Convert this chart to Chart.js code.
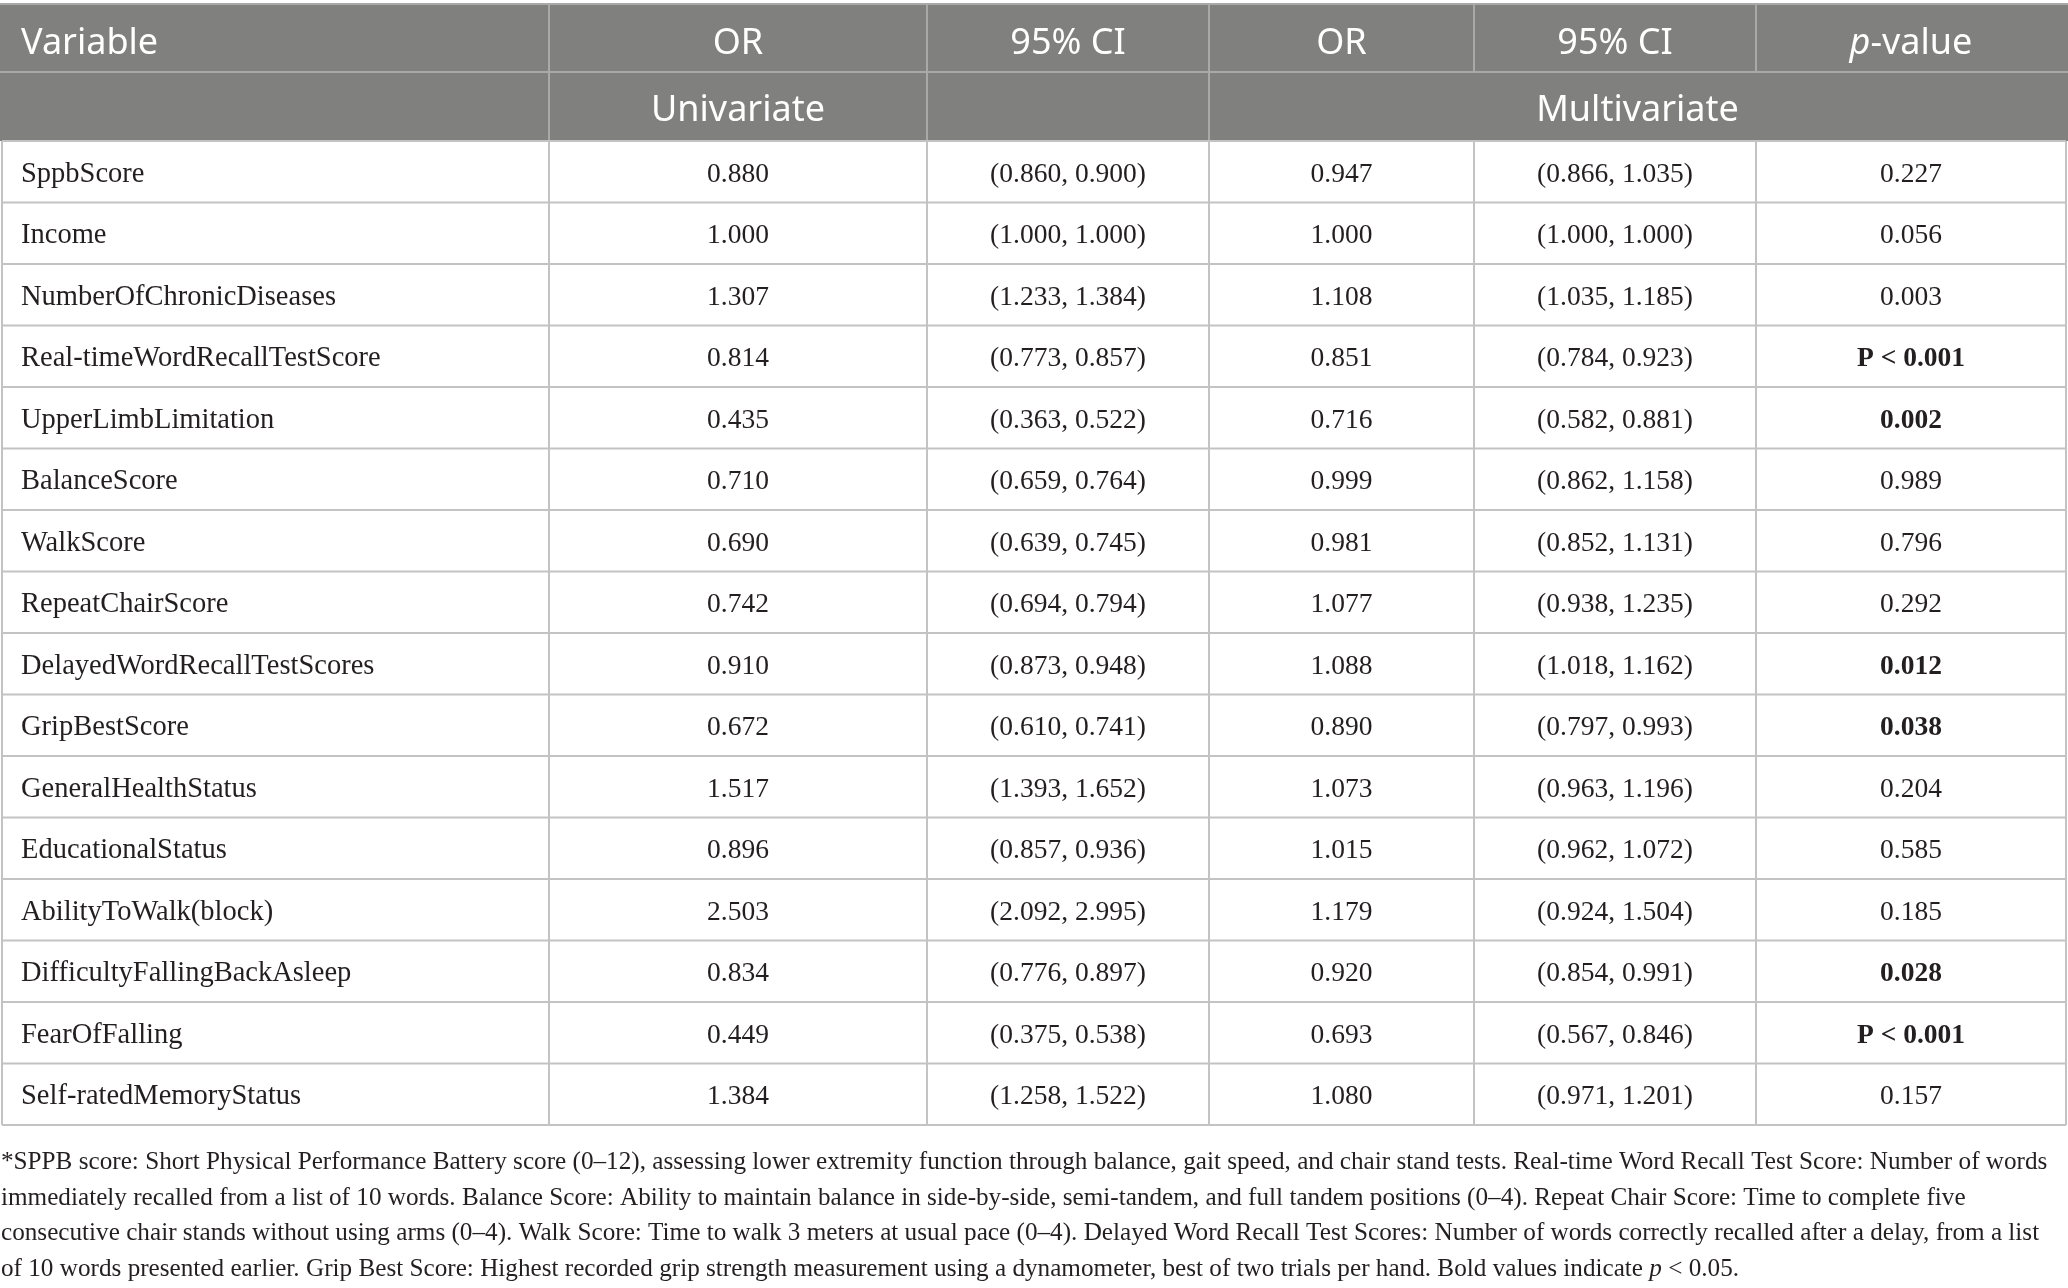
<!DOCTYPE html>
<html>
<head>
<meta charset="utf-8">
<script src="https://cdn.jsdelivr.net/npm/chart.js@4.4.0/dist/chart.umd.min.js"></script>
<style>
  html, body { margin: 0; padding: 0; background: #fff; }
  #wrap { width: 2068px; height: 1288px; }
</style>
</head>
<body>
<div id="wrap"><canvas id="tbl" width="2068" height="1288"></canvas></div>
<script>
// table content
var variables = ['SppbScore', 'Income', 'NumberOfChronicDiseases', 'Real-timeWordRecallTestScore',
  'UpperLimbLimitation', 'BalanceScore', 'WalkScore', 'RepeatChairScore',
  'DelayedWordRecallTestScores', 'GripBestScore', 'GeneralHealthStatus', 'EducationalStatus',
  'AbilityToWalk(block)', 'DifficultyFallingBackAsleep', 'FearOfFalling', 'Self-ratedMemoryStatus'];
var uniOR = ['0.880', '1.000', '1.307', '0.814', '0.435', '0.710', '0.690', '0.742',
  '0.910', '0.672', '1.517', '0.896', '2.503', '0.834', '0.449', '1.384'];
var uniCI = ['(0.860, 0.900)', '(1.000, 1.000)', '(1.233, 1.384)', '(0.773, 0.857)',
  '(0.363, 0.522)', '(0.659, 0.764)', '(0.639, 0.745)', '(0.694, 0.794)',
  '(0.873, 0.948)', '(0.610, 0.741)', '(1.393, 1.652)', '(0.857, 0.936)',
  '(2.092, 2.995)', '(0.776, 0.897)', '(0.375, 0.538)', '(1.258, 1.522)'];
var multiOR = ['0.947', '1.000', '1.108', '0.851', '0.716', '0.999', '0.981', '1.077',
  '1.088', '0.890', '1.073', '1.015', '1.179', '0.920', '0.693', '1.080'];
var multiCI = ['(0.866, 1.035)', '(1.000, 1.000)', '(1.035, 1.185)', '(0.784, 0.923)',
  '(0.582, 0.881)', '(0.862, 1.158)', '(0.852, 1.131)', '(0.938, 1.235)',
  '(1.018, 1.162)', '(0.797, 0.993)', '(0.963, 1.196)', '(0.962, 1.072)',
  '(0.924, 1.504)', '(0.854, 0.991)', '(0.567, 0.846)', '(0.971, 1.201)'];
var pValues = ['0.227', '0.056', '0.003', 'P < 0.001', '0.002', '0.989', '0.796', '0.292',
  '0.012', '0.038', '0.204', '0.585', '0.185', '0.028', 'P < 0.001', '0.157'];
var pBold = [false, false, false, true, true, false, false, false,
  true, true, false, false, false, true, true, false];
var headerLabels = ['Variable', 'OR', '95% CI', 'OR', '95% CI', 'p-value'];
var groupLabels = ['Univariate', 'Multivariate'];
var footnote = [
  [['*SPPB score: Short Physical Performance Battery score (0\u201312), assessing lower extremity function through balance, gait speed, and chair stand tests. Real-time Word Recall Test Score: Number of words', false]],
  [['immediately recalled from a list of 10 words. Balance Score: Ability to maintain balance in side-by-side, semi-tandem, and full tandem positions (0\u20134). Repeat Chair Score: Time to complete five', false]],
  [['consecutive chair stands without using arms (0\u20134). Walk Score: Time to walk 3 meters at usual pace (0\u20134). Delayed Word Recall Test Scores: Number of words correctly recalled after a delay, from a list', false]],
  [['of 10 words presented earlier. Grip Best Score: Highest recorded grip strength measurement using a dynamometer, best of two trials per hand. Bold values indicate ', false], ['p', true], [' < 0.05.', false]]
];

// layout (canvas units)
var colEdges = [2, 549, 927, 1209, 1474, 1756, 2066];
var headTop = 4, headMid = 72, headBot = 141, rowH = 61.5;
var serif = '"Liberation Serif", "Times New Roman", serif';
var sans = '"Noto Sans", "Open Sans", sans-serif';

function colCenter(c) { return (colEdges[c] + colEdges[c + 1]) / 2; }
function rowCenter(i) { return headBot + rowH * i + rowH / 2; }

var columns = [variables, uniOR, uniCI, multiOR, multiCI, pValues];
var datasets = columns.map(function (col, c) {
  return {
    label: headerLabels[c],
    texts: col,
    data: col.map(function (t, i) { return { x: c === 0 ? colEdges[0] + 19 : colCenter(c), y: rowCenter(i) }; }),
    pointRadius: 0,
    showLine: false
  };
});

function drawSegments(ctx, segs, x, y, align, size, family, weight, color) {
  var widths = segs.map(function (s) {
    ctx.font = (s[1] ? 'italic ' : '') + weight + ' ' + size + 'px ' + family;
    return ctx.measureText(s[0]).width;
  });
  var total = widths.reduce(function (a, b) { return a + b; }, 0);
  var cx = align === 'center' ? x - total / 2 : x;
  ctx.fillStyle = color;
  ctx.textAlign = 'left';
  ctx.textBaseline = 'alphabetic';
  segs.forEach(function (s, k) {
    ctx.font = (s[1] ? 'italic ' : '') + weight + ' ' + size + 'px ' + family;
    ctx.fillText(s[0], cx, y);
    cx += widths[k];
  });
}

var tablePlugin = {
  id: 'tablePlugin',
  beforeDatasetsDraw: function (chart) {
    var ctx = chart.ctx, xs = chart.scales.x, ys = chart.scales.y;
    var X = function (v) { return xs.getPixelForValue(v); };
    var Y = function (v) { return ys.getPixelForValue(v); };
    var left = X(colEdges[0]), right = X(colEdges[6]);
    var bottom = Y(headBot + rowH * variables.length);
    ctx.save();
    // header band
    ctx.fillStyle = '#80817f';
    ctx.fillRect(X(0), Y(headTop), X(2068) - X(0), Y(headBot) - Y(headTop));
    ctx.lineWidth = 2;
    ctx.strokeStyle = '#a9aaa8';
    ctx.beginPath();
    ctx.moveTo(X(0), Y(headTop)); ctx.lineTo(X(2068), Y(headTop));
    ctx.moveTo(X(0), Y(headMid)); ctx.lineTo(X(2068), Y(headMid));
    for (var c = 1; c < 6; c++) {
      ctx.moveTo(X(colEdges[c]), Y(headTop));
      ctx.lineTo(X(colEdges[c]), Y(c <= 3 ? headBot : headMid));
    }
    ctx.stroke();
    // body grid
    ctx.strokeStyle = '#c3c3c3';
    ctx.beginPath();
    for (var i = 0; i <= variables.length; i++) {
      var yy = Y(headBot + rowH * i);
      ctx.moveTo(left, yy); ctx.lineTo(right, yy);
    }
    for (var c2 = 0; c2 < 7; c2++) {
      ctx.moveTo(X(colEdges[c2]), Y(headBot)); ctx.lineTo(X(colEdges[c2]), bottom);
    }
    ctx.stroke();
    ctx.restore();
  },
  afterDatasetsDraw: function (chart) {
    var ctx = chart.ctx, xs = chart.scales.x, ys = chart.scales.y;
    ctx.save();
    // header text
    var hy1 = ys.getPixelForValue((headTop + headMid) / 2) + 16;
    var hy2 = ys.getPixelForValue((headMid + headBot) / 2) + 14;
    headerLabels.forEach(function (h, c) {
      var segs = h === 'p-value' ? [['p', true], ['-value', false]] : [[h, false]];
      if (c === 0) drawSegments(ctx, segs, xs.getPixelForValue(colEdges[0] + 19), hy1, 'left', 36, sans, 'normal', '#ffffff');
      else drawSegments(ctx, segs, xs.getPixelForValue(colCenter(c)), hy1, 'center', 36, sans, 'normal', '#ffffff');
    });
    drawSegments(ctx, [[groupLabels[0], false]], xs.getPixelForValue(colCenter(1)), hy2, 'center', 36, sans, 'normal', '#ffffff');
    drawSegments(ctx, [[groupLabels[1], false]], xs.getPixelForValue((colEdges[3] + colEdges[6]) / 2), hy2, 'center', 36, sans, 'normal', '#ffffff');
    // body cells from dataset points
    chart.data.datasets.forEach(function (ds, c) {
      var meta = chart.getDatasetMeta(c);
      meta.data.forEach(function (pt, i) {
        var bold = c === 5 && pBold[i];
        drawSegments(ctx, [[ds.texts[i], false]], pt.x, pt.y + 10, c === 0 ? 'left' : 'center',
          c === 0 ? 28.5 : 27.5, serif, bold ? 'bold' : 'normal', '#231f20');
      });
    });
    // footnote
    footnote.forEach(function (line, k) {
      drawSegments(ctx, line, xs.getPixelForValue(1), ys.getPixelForValue(1169 + k * 35.5), 'left', 25.2, serif, 'normal', '#231f20');
    });
    ctx.restore();
  }
};

new Chart(document.getElementById('tbl').getContext('2d'), {
  type: 'scatter',
  data: { datasets: datasets },
  options: {
    responsive: false,
    animation: false,
    devicePixelRatio: 1,
    events: [],
    layout: { padding: 0 },
    plugins: { legend: { display: false }, tooltip: { enabled: false } },
    scales: {
      x: { type: 'linear', min: 0, max: 2068, display: false },
      y: { type: 'linear', min: 0, max: 1288, reverse: true, display: false }
    }
  },
  plugins: [tablePlugin]
});
</script>
</body>
</html>
